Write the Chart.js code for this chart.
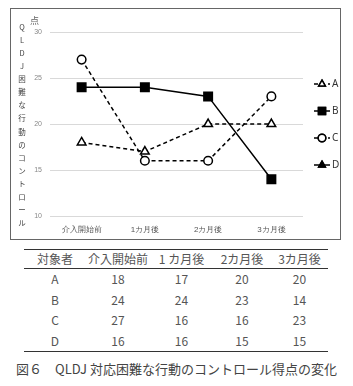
<!DOCTYPE html>
<html>
<head>
<meta charset="utf-8">
<script src="https://cdn.jsdelivr.net/npm/chart.js@4"></script>
<style>
  body { margin: 0; background: #fff; width: 353px; height: 386px; position: relative; overflow: hidden;
         font-family: "Noto Sans CJK JP", "Noto Sans", sans-serif; }
  #box { position: absolute; left: 10px; top: 8px; width: 331px; height: 232px; border: 1px solid #666; box-sizing: border-box; }
  #box canvas { position: absolute; left: 0; top: 0; }
  #unit { position: absolute; left: 30px; top: 14px; font-size: 9px; color: #666; }
  #ytitle { position: absolute; left: 17px; top: 22px; width: 10px; height: 206px; display: flex; flex-direction: column;
            justify-content: space-between; align-items: center; font-size: 7.5px; color: #444; line-height: 10px; }
  #tbl { position: absolute; left: 24px; top: 249px; width: 304px; border-collapse: collapse; color: #555;
         font-size: 12px; line-height: 12px; table-layout: fixed; white-space: nowrap; }
  #tbl th { font-weight: normal; height: 18px; padding: 0; border-top: 1.5px solid #333; border-bottom: 1.5px solid #333; }
  #tbl td { text-align: center; height: 20.5px; padding: 0; }
  #tbl tr:last-child td { border-bottom: 1.5px solid #333; }
  #caption { position: absolute; left: 16px; top: 362px; font-size: 13px; line-height: 14px; color: #444; white-space: pre; }
</style>
</head>
<body>
<div id="box"><canvas id="lineChart" width="329" height="230"></canvas></div>
<div id="unit">点</div>
<div id="ytitle"></div>
<table id="tbl"></table>
<div id="caption">図６　QLDJ 対応困難な行動のコントロール得点の変化</div>

<script>
/**************************************************
 * DATA
 **************************************************/
const categories = ["介入開始前", "1カ月後", "2カ月後", "3カ月後"];
const tableHeaders = ["対象者", "介入開始前", "1 カ月後", "2カ月後", "3カ月後"];
const seriesNames = ["A", "B", "C", "D"];
const valuesA = [18, 17, 20, 20];
const valuesB = [24, 24, 23, 14];
const valuesC = [27, 16, 16, 23];
const valuesD = [16, 16, 15, 15];
const yMin = 10;
const yMax = 30;
const yStep = 5;
const yTitle = "QLDJ困難な行動のコントロール";

/**************************************************
 * Y TITLE (stacked characters)
 **************************************************/
const yt = document.getElementById("ytitle");
for (const ch of yTitle) {
  const s = document.createElement("span");
  s.textContent = ch;
  yt.appendChild(s);
}

/**************************************************
 * TABLE
 **************************************************/
const allValues = [valuesA, valuesB, valuesC, valuesD];
const colWidths = [62, 64, 63, 58, 57];
const tbl = document.getElementById("tbl");
let html = "<tr>" + tableHeaders.map((h, i) => `<th style="width:${colWidths[i]}px">${h}</th>`).join("") + "</tr>";
seriesNames.forEach((n, i) => {
  html += "<tr><td>" + n + "</td>" + allValues[i].map(v => `<td>${v}</td>`).join("") + "</tr>";
});
tbl.innerHTML = html;

/**************************************************
 * LEGEND PLUGIN (right side, line + marker)
 **************************************************/
const sideLegend = {
  id: "sideLegend",
  afterDraw(chart) {
    const ctx = chart.ctx;
    chart.data.datasets.forEach((ds, i) => {
      const y = 75 + i * 27;
      ctx.save();
      ctx.strokeStyle = "#000";
      ctx.lineWidth = 1.5;
      ctx.setLineDash(ds.borderDash || []);
      ctx.beginPath();
      ctx.moveTo(303, y);
      ctx.lineTo(319, y);
      ctx.stroke();
      ctx.setLineDash([]);
      Chart.helpers.drawPoint(ctx, {
        pointStyle: ds.pointStyle,
        radius: ds.pointStyle === "rect" ? 5 : 3.8,
        borderWidth: 1.3
      }, 311, y);
      ctx.fillStyle = ds.pointBackgroundColor;
      ctx.strokeStyle = "#000";
      ctx.fill();
      ctx.stroke();
      ctx.fillStyle = "#333";
      ctx.font = "10px 'Noto Sans', sans-serif";
      ctx.textBaseline = "middle";
      ctx.textAlign = "left";
      ctx.fillText(ds.label, 321, y);
      ctx.restore();
    });
  }
};

/**************************************************
 * LINE CHART
 **************************************************/
function drawLineChart() {
  const ctx = document.getElementById("lineChart").getContext("2d");
  const base = {
    borderColor: "#000",
    borderWidth: 1.5,
    pointBorderColor: "#000",
    pointBorderWidth: 1.5,
    tension: 0
  };
  new Chart(ctx, {
    type: "line",
    data: {
      labels: categories,
      datasets: [
        { ...base, label: seriesNames[0], data: valuesA, borderDash: [4, 3], pointStyle: "triangle", pointRadius: 5, pointBackgroundColor: "#fff" },
        { ...base, label: seriesNames[1], data: valuesB, pointStyle: "rect", pointRadius: 6, pointBackgroundColor: "#000" },
        { ...base, label: seriesNames[2], data: valuesC, borderDash: [4, 3], pointStyle: "circle", pointRadius: 4.3, pointBackgroundColor: "#fff" },
        { ...base, label: seriesNames[3], data: valuesD, pointStyle: "triangle", pointRadius: 5, pointBackgroundColor: "#000", hidden: true }
      ]
    },
    options: {
      responsive: false,
      animation: false,
      layout: { padding: { left: 0, top: 23, right: 37, bottom: 0 } },
      plugins: {
        legend: { display: false },
        tooltip: { enabled: false }
      },
      scales: {
        x: {
          offset: true,
          grid: { display: false, drawTicks: false },
          border: { display: false },
          ticks: { color: "#555", font: { size: 8 }, padding: 9, maxRotation: 0 },
          afterFit(scale) { scale.height = 23; }
        },
        y: {
          min: yMin,
          max: yMax,
          grid: { color: "#d9d9d9", drawTicks: false },
          border: { display: false },
          ticks: { stepSize: yStep, color: "#888", font: { size: 7 }, padding: 8 },
          afterFit(scale) { scale.width = 39; }
        }
      }
    },
    plugins: [sideLegend]
  });
}

drawLineChart();
</script>
</body>
</html>
